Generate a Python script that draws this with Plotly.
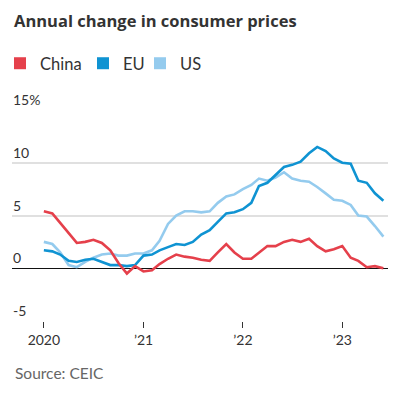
import plotly.graph_objects as go
import pandas as pd

months = pd.date_range("2020-01-01", "2023-06-01", freq="MS")

china = [5.4, 5.2, 4.3, 3.3, 2.4, 2.5, 2.7, 2.4, 1.7, 0.5, -0.5, 0.2,
         -0.3, -0.2, 0.4, 0.9, 1.3, 1.1, 1.0, 0.8, 0.7, 1.5, 2.3, 1.5,
         0.9, 0.9, 1.5, 2.1, 2.1, 2.5, 2.7, 2.5, 2.8, 2.1, 1.6, 1.8,
         2.1, 1.0, 0.7, 0.1, 0.2, 0.0]
eu = [1.7, 1.6, 1.3, 0.7, 0.6, 0.8, 0.9, 0.6, 0.3, 0.3, 0.2, 0.3,
      1.2, 1.3, 1.7, 2.0, 2.3, 2.2, 2.5, 3.2, 3.6, 4.4, 5.2, 5.3,
      5.6, 6.2, 7.8, 8.1, 8.8, 9.6, 9.8, 10.1, 10.9, 11.5, 11.1, 10.4,
      10.0, 9.9, 8.3, 8.1, 7.1, 6.4]
us = [2.5, 2.3, 1.5, 0.3, 0.1, 0.6, 1.0, 1.3, 1.4, 1.2, 1.2, 1.4,
      1.4, 1.7, 2.6, 4.2, 5.0, 5.4, 5.4, 5.3, 5.4, 6.2, 6.8, 7.0,
      7.5, 7.9, 8.5, 8.3, 8.6, 9.1, 8.5, 8.3, 8.2, 7.7, 7.1, 6.5,
      6.4, 6.0, 5.0, 4.9, 4.0, 3.0]

series_names = ["China", "EU", "US"]
colors = ["#e5404b", "#0f93d2", "#94cbee"]
y_ticks = [-5, 0, 5, 10, 15]
y_ticktext = ["-5", "0", "5", "10", "15%"]
x_ticks = ["2020-01-01", "2021-01-01", "2022-01-01", "2023-01-01"]
x_ticktext = ["2020", "’21", "’22", "’23"]

FONT = "Lato"
W, H = 398, 388  # page body has an 8px margin inside the 406x396 window
L, R, T, B = 4, 18, 102, 75
PW, PH = W - L - R, H - T - B

fig = go.Figure()
for name, vals, col in [("US", us, colors[2]), ("EU", eu, colors[1]), ("China", china, colors[0])]:
    fig.add_trace(go.Scatter(x=months, y=vals, mode="lines", name=name,
                             line=dict(color=col, width=2.6), showlegend=False))
legend_widths = {"China": 46, "EU": 20, "US": 30}
for name, col in zip(series_names, colors):
    fig.add_trace(go.Scatter(x=[None], y=[None], mode="markers", name=name,
                             legendwidth=legend_widths[name],
                             marker=dict(symbol="square", size=12, color=col)))

fig.update_layout(
    width=W, height=H,
    margin=dict(l=L, r=R, t=T, b=B, autoexpand=False),
    paper_bgcolor="white", plot_bgcolor="white",
    font=dict(family=FONT, color="#333333", size=14),
    title=dict(text="<b>Annual change in consumer prices</b>",
               x=6 / W, xanchor="left", xref="container",
               y=1 - 13 / H, yanchor="middle", yref="container",
               font=dict(family="Open Sans", size=16.5, color="#333333")),
    legend=dict(orientation="h", xref="container", yref="container",
                x=0, xanchor="left", y=1 - 38 / H, yanchor="top",
                indentation=-8,
                font=dict(family=FONT, size=16.5, color="#333333"),
                itemclick=False, traceorder="normal"),
    showlegend=True,
    xaxis=dict(type="date", range=["2019-09-06", "2023-06-18"],
               tickvals=x_ticks, ticktext=x_ticktext,
               showgrid=False, zeroline=False, showline=False,
               ticks="outside", ticklen=6, tickcolor="#333333", tickwidth=1,
               tickfont=dict(family=FONT, size=14, color="#333333")),
    yaxis=dict(range=[-5, 15], tickvals=y_ticks, showticklabels=False,
               showgrid=True, gridcolor="#e0e0e0", gridwidth=1.5,
               zeroline=True, zerolinecolor="#111111", zerolinewidth=1.3,
               showline=False, ticks=""),
)
for v, t in zip(y_ticks, y_ticktext):
    fig.add_annotation(text=t, xref="paper", yref="y", x=0, y=v,
                       xanchor="left", yanchor="bottom", xshift=-1, showarrow=False,
                       font=dict(family=FONT, size=14, color="#333333"))
fig.add_annotation(text="Source: CEIC", xref="paper", yref="paper",
                   x=(5 - L) / PW, xanchor="left",
                   y=-(365 - (T + PH)) / PH, yanchor="middle", showarrow=False,
                   font=dict(family=FONT, size=15.5, color="#666666"))

fig.write_html("out.html")
